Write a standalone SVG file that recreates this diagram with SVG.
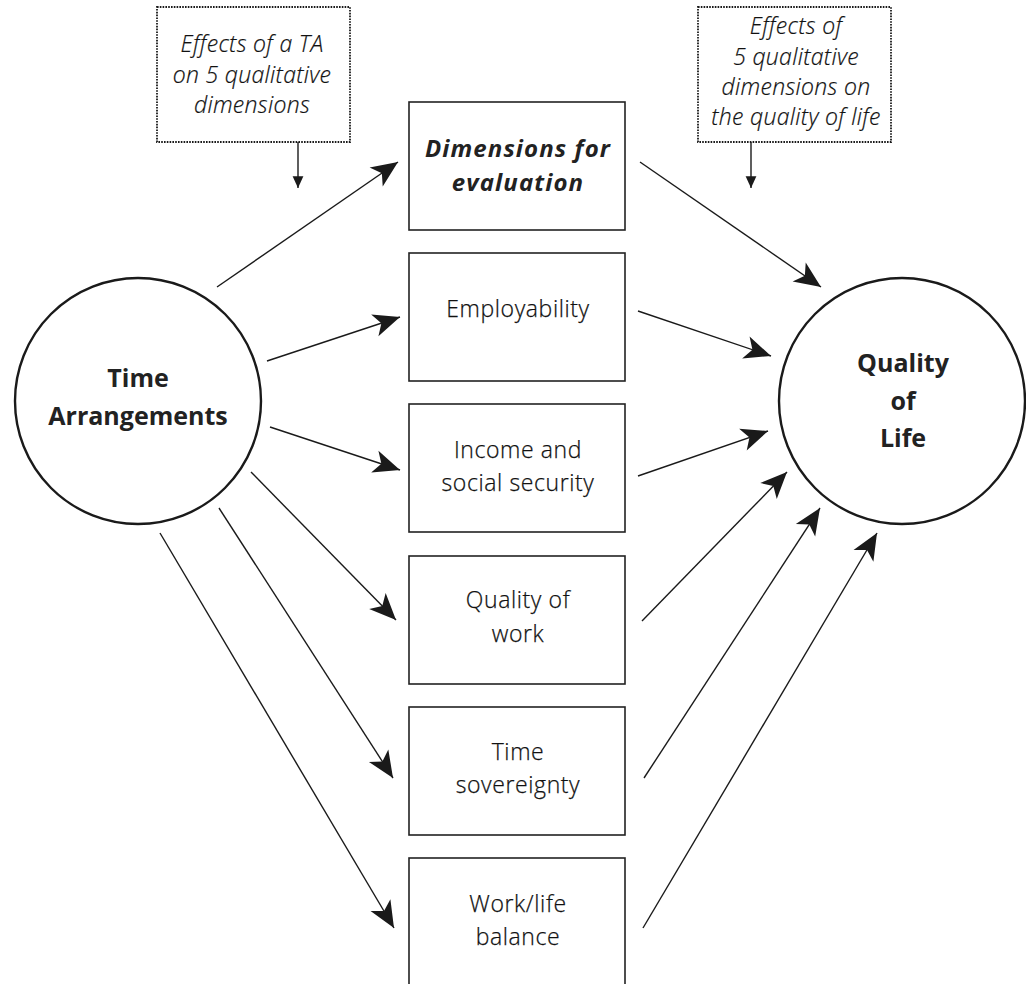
<svg xmlns="http://www.w3.org/2000/svg" width="1026" height="984" viewBox="0 0 1026 984">
<style>
.bg{fill:#fff}
.circ{fill:#fff;stroke:#1a1a1a;stroke-width:2.4}
.box{fill:#fff;stroke:#222;stroke-width:1.6}
.note{fill:#fff;stroke:#1a1a1a;stroke-width:1.8;stroke-dasharray:1.6 1.2}
.ln{stroke:#1a1a1a;stroke-width:1.4;fill:none}
.t{font-family:"Open Sans","Noto Sans",sans-serif;fill:#222;text-anchor:middle}
.big{font-size:25px;font-weight:bold}
.reg{font-size:23px;font-weight:300;letter-spacing:0.6px;fill:#111;stroke:#111;stroke-width:0.25}
.bi{font-size:24px;font-weight:bold;font-style:italic;letter-spacing:1.1px}
.it{font-size:23px;font-weight:300;font-style:italic;letter-spacing:0.3px;fill:#111;stroke:#111;stroke-width:0.2}
</style>
<defs>
<marker id="ah" markerUnits="userSpaceOnUse" markerWidth="30" markerHeight="30" viewBox="-24 -12 26 24" refX="0" refY="0" orient="auto">
<path d="M0,0 L-23,-10 L-17,0 L-23,10 Z" fill="#1a1a1a"/>
</marker>
<marker id="sh" markerUnits="userSpaceOnUse" markerWidth="14" markerHeight="14" viewBox="-12 -6 13 12" refX="0" refY="0" orient="auto">
<path d="M0,0 L-11,-5 L-11,5 Z" fill="#1a1a1a"/>
</marker>
</defs>
<rect class="bg" x="0" y="0" width="1026" height="984"/>

<g id="note-left">
<rect class="note" x="157" y="7" width="193" height="135"/>
<text class="t it" x="252" y="52">Effects of a TA</text>
<text class="t it" x="252" y="83">on 5 qualitative</text>
<text class="t it" x="252" y="113">dimensions</text>
</g>
<g id="note-right">
<rect class="note" x="698" y="7" width="193" height="135"/>
<text class="t it" x="796" y="34">Effects of</text>
<text class="t it" x="796" y="65">5 qualitative</text>
<text class="t it" x="796" y="95">dimensions on</text>
<text class="t it" x="796" y="125">the quality of life</text>
</g>

<g id="time-arrangements">
<circle class="circ" cx="138" cy="401" r="123"/>
<text class="t big" x="138" y="387">Time</text>
<text class="t big" x="138" y="425">Arrangements</text>
</g>
<g id="quality-of-life">
<circle class="circ" cx="902" cy="401" r="123"/>
<text class="t big" x="903" y="372">Quality</text>
<text class="t big" x="903" y="410">of</text>
<text class="t big" x="903" y="447">Life</text>
</g>

<g id="dimensions">
<rect class="box" x="409" y="102" width="216" height="128"/>
<text class="t bi" x="518" y="157">Dimensions for</text>
<text class="t bi" x="518" y="191">evaluation</text>
</g>
<g id="employability">
<rect class="box" x="409" y="253" width="216" height="128"/>
<text class="t reg" x="518" y="317">Employability</text>
</g>
<g id="income">
<rect class="box" x="409" y="404" width="216" height="128"/>
<text class="t reg" x="518" y="458">Income and</text>
<text class="t reg" x="518" y="491">social security</text>
</g>
<g id="quality-of-work">
<rect class="box" x="409" y="556" width="216" height="128"/>
<text class="t reg" x="518" y="608">Quality of</text>
<text class="t reg" x="518" y="642">work</text>
</g>
<g id="time-sovereignty">
<rect class="box" x="409" y="707" width="216" height="128"/>
<text class="t reg" x="518" y="760">Time</text>
<text class="t reg" x="518" y="793">sovereignty</text>
</g>
<g id="work-life">
<rect class="box" x="409" y="858" width="216" height="130"/>
<text class="t reg" x="518" y="912">Work/life</text>
<text class="t reg" x="518" y="945">balance</text>
</g>

<g id="connectors">
<line class="ln" x1="298" y1="142" x2="298" y2="188" marker-end="url(#sh)"/>
<line class="ln" x1="751" y1="142" x2="751" y2="188" marker-end="url(#sh)"/>

<line class="ln" x1="217" y1="287" x2="398" y2="162" marker-end="url(#ah)"/>
<line class="ln" x1="267" y1="361" x2="400" y2="317" marker-end="url(#ah)"/>
<line class="ln" x1="270" y1="427" x2="400" y2="470" marker-end="url(#ah)"/>
<line class="ln" x1="251" y1="472" x2="396" y2="620" marker-end="url(#ah)"/>
<line class="ln" x1="219" y1="508" x2="393" y2="778" marker-end="url(#ah)"/>
<line class="ln" x1="160" y1="533" x2="394" y2="928" marker-end="url(#ah)"/>

<line class="ln" x1="640" y1="162" x2="821" y2="287" marker-end="url(#ah)"/>
<line class="ln" x1="638" y1="311" x2="771" y2="356" marker-end="url(#ah)"/>
<line class="ln" x1="638" y1="476" x2="768" y2="431" marker-end="url(#ah)"/>
<line class="ln" x1="642" y1="621" x2="787" y2="472" marker-end="url(#ah)"/>
<line class="ln" x1="644" y1="778" x2="820" y2="508" marker-end="url(#ah)"/>
<line class="ln" x1="643" y1="928" x2="877" y2="533" marker-end="url(#ah)"/>
</g>
</svg>
